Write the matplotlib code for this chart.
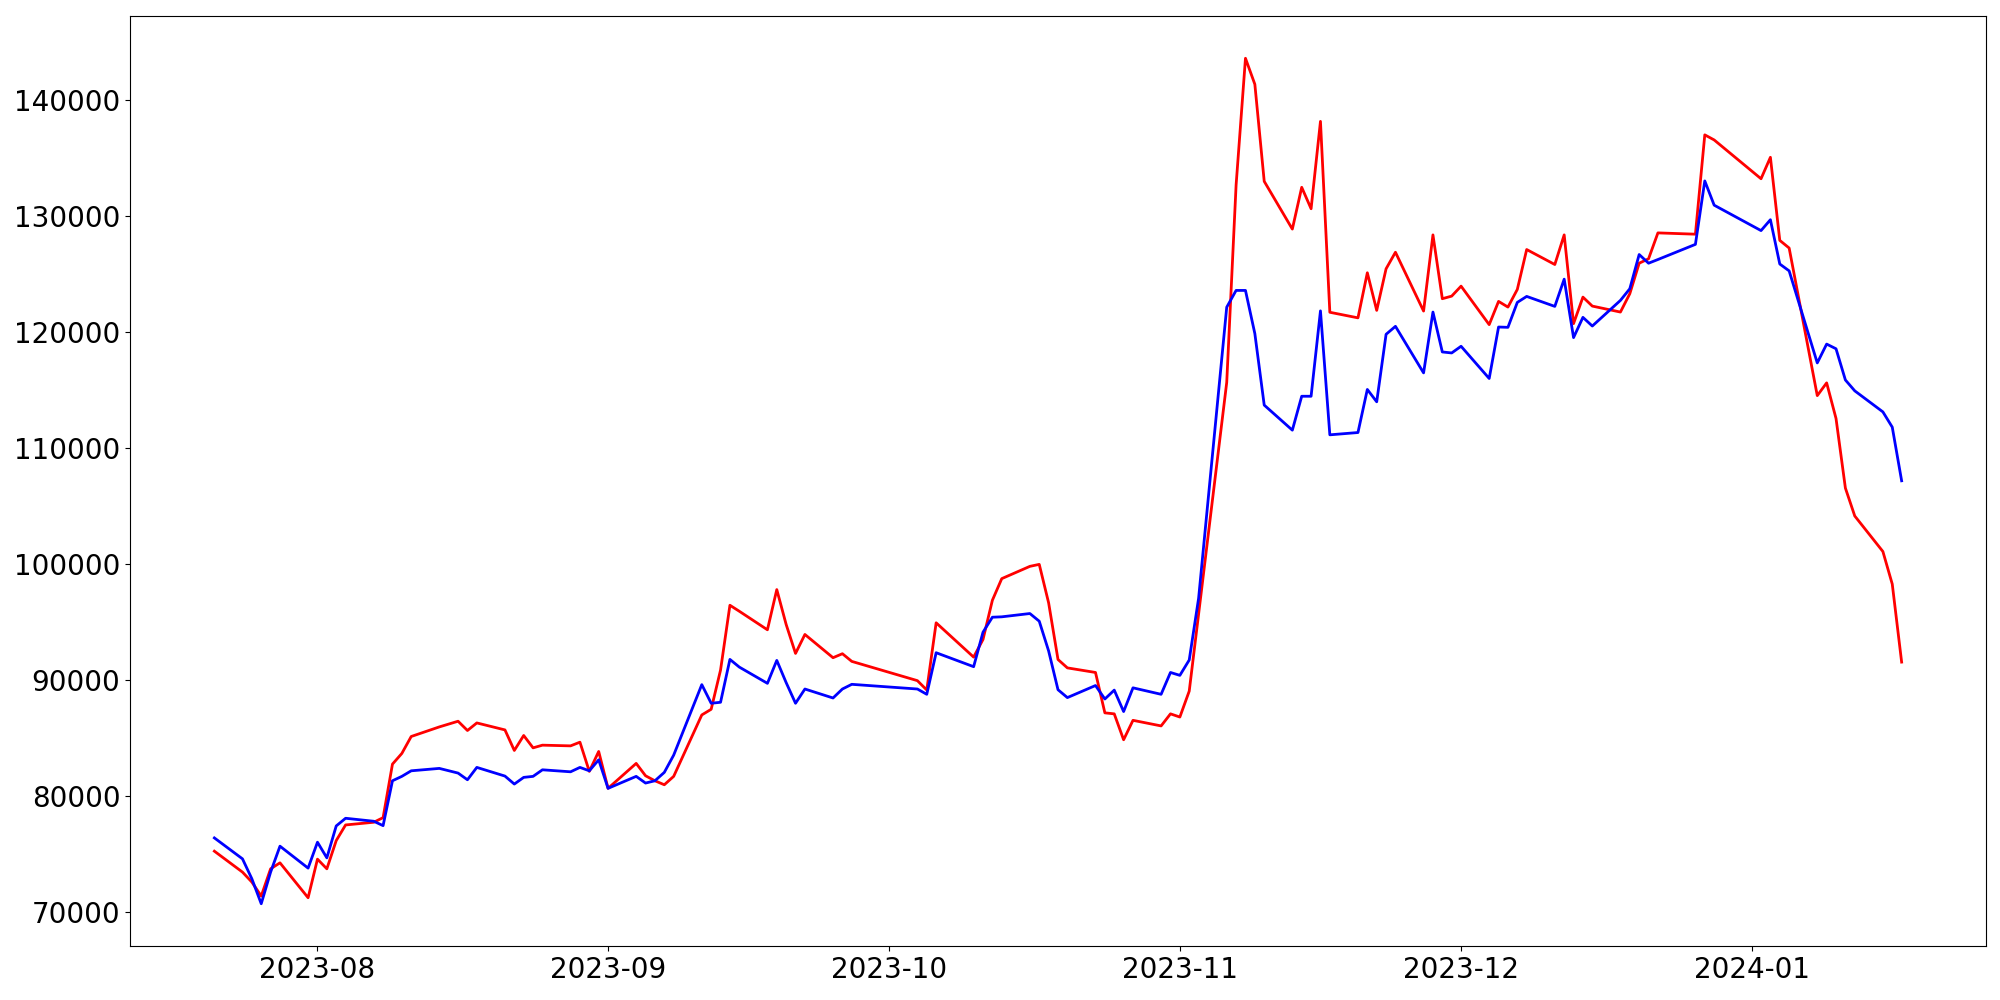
import pandas as pd
import matplotlib
matplotlib.use("Agg")
import matplotlib.pyplot as plt
import matplotlib.dates as mdates

# Trading days (KRX calendar) covered by the chart
START_DATE = "2023-07-21"
END_DATE = "2024-01-17"
KRX_HOLIDAYS = [
    "2023-08-15", "2023-09-28", "2023-09-29", "2023-10-02", "2023-10-03",
    "2023-10-09", "2023-12-25", "2023-12-29", "2024-01-01",
]

# Red series, one value per trading day
red_values = [
    # Jul
    75243, 73438, 72579, 71375, 73722, 74237, 71229,
    # Aug
    74555, 73722, 76154, 77503, 77735, 78131, 82746, 83666, 85127, 85953, 86442,
    85643, 86296, 85694, 83924, 85213, 84148, 84379, 84319, 84637, 82119, 83838,
    # Sep
    80658, 82807, 81741, 81311, 80967, 81690, 86984, 87473, 90851, 96438, 95922,
    94324, 97788, 94779, 92286, 93920, 91917, 92261, 91600,
    # Oct
    89940, 89133, 94926, 91969, 93490, 96868, 98733, 99791, 99962, 96645, 91763,
    91040, 90645, 87164, 87078, 84844, 86520, 86038, 87078,
    # Nov
    86803, 89038, 95682, 115648, 132657, 143582, 141339, 132975, 128859, 132460,
    130613, 138143, 121690, 121209, 125094, 121854, 125438, 126864, 121795, 128360,
    122859, 123083,
    # Dec
    123942, 120625, 122627, 122137, 123659, 127097, 125807, 128360, 120711, 122997,
    122223, 121708, 123289, 125919, 126297, 128532, 128420, 136981, 136543,
    # Jan
    133199, 135047, 127887, 127226, 114505, 115605, 112537, 106537, 104131, 101071,
    98261, 91539,
]

# Blue series, one value per trading day
blue_values = [
    # Jul
    76386, 74581, 72862, 70713, 73438, 75673, 73782,
    # Aug
    76016, 74667, 77417, 78079, 77821, 77443, 81311, 81690, 82170, 82377, 81973,
    81397, 82463, 81715, 81027, 81603, 81690, 82256, 82084, 82463, 82170, 83116,
    # Sep
    80658, 81690, 81113, 81311, 82033, 83520, 89597, 87990, 88076, 91771, 91110,
    89709, 91685, 89769, 87990, 89219, 88445, 89219, 89623,
    # Oct
    89219, 88763, 92347, 91144, 94118, 95407, 95441, 95725, 95063, 92500, 89158,
    88479, 89519, 88359, 89124, 87276, 89321, 88763, 90645,
    # Nov
    90396, 91720, 97040, 122129, 123573, 123573, 119851, 113689, 111530, 114452,
    114452, 121811, 111127, 111325, 115038, 113973, 119791, 120478, 116465, 121708,
    118270, 118184,
    # Dec
    118760, 115983, 120418, 120392, 122541, 123057, 122197, 124544, 119507, 121252,
    120504, 122713, 123719, 126667, 125919, 126237, 127543, 133010, 130921,
    # Jan
    128730, 129667, 125850, 125257, 117324, 118948, 118544, 115854, 114917, 113104,
    111789, 107165,
]

dates = pd.bdate_range(START_DATE, END_DATE, freq="C", holidays=KRX_HOLIDAYS)

fig, ax = plt.subplots(figsize=(20, 10), dpi=100)
fig.subplots_adjust(left=0.065, right=0.993, top=0.984, bottom=0.054)

ax.plot(dates, red_values, color="red", linewidth=2)
ax.plot(dates, blue_values, color="blue", linewidth=2)

ax.xaxis.set_major_locator(mdates.MonthLocator())
ax.xaxis.set_major_formatter(mdates.DateFormatter("%Y-%m"))
ax.tick_params(axis="both", labelsize=20)

fig.savefig("out.png")
